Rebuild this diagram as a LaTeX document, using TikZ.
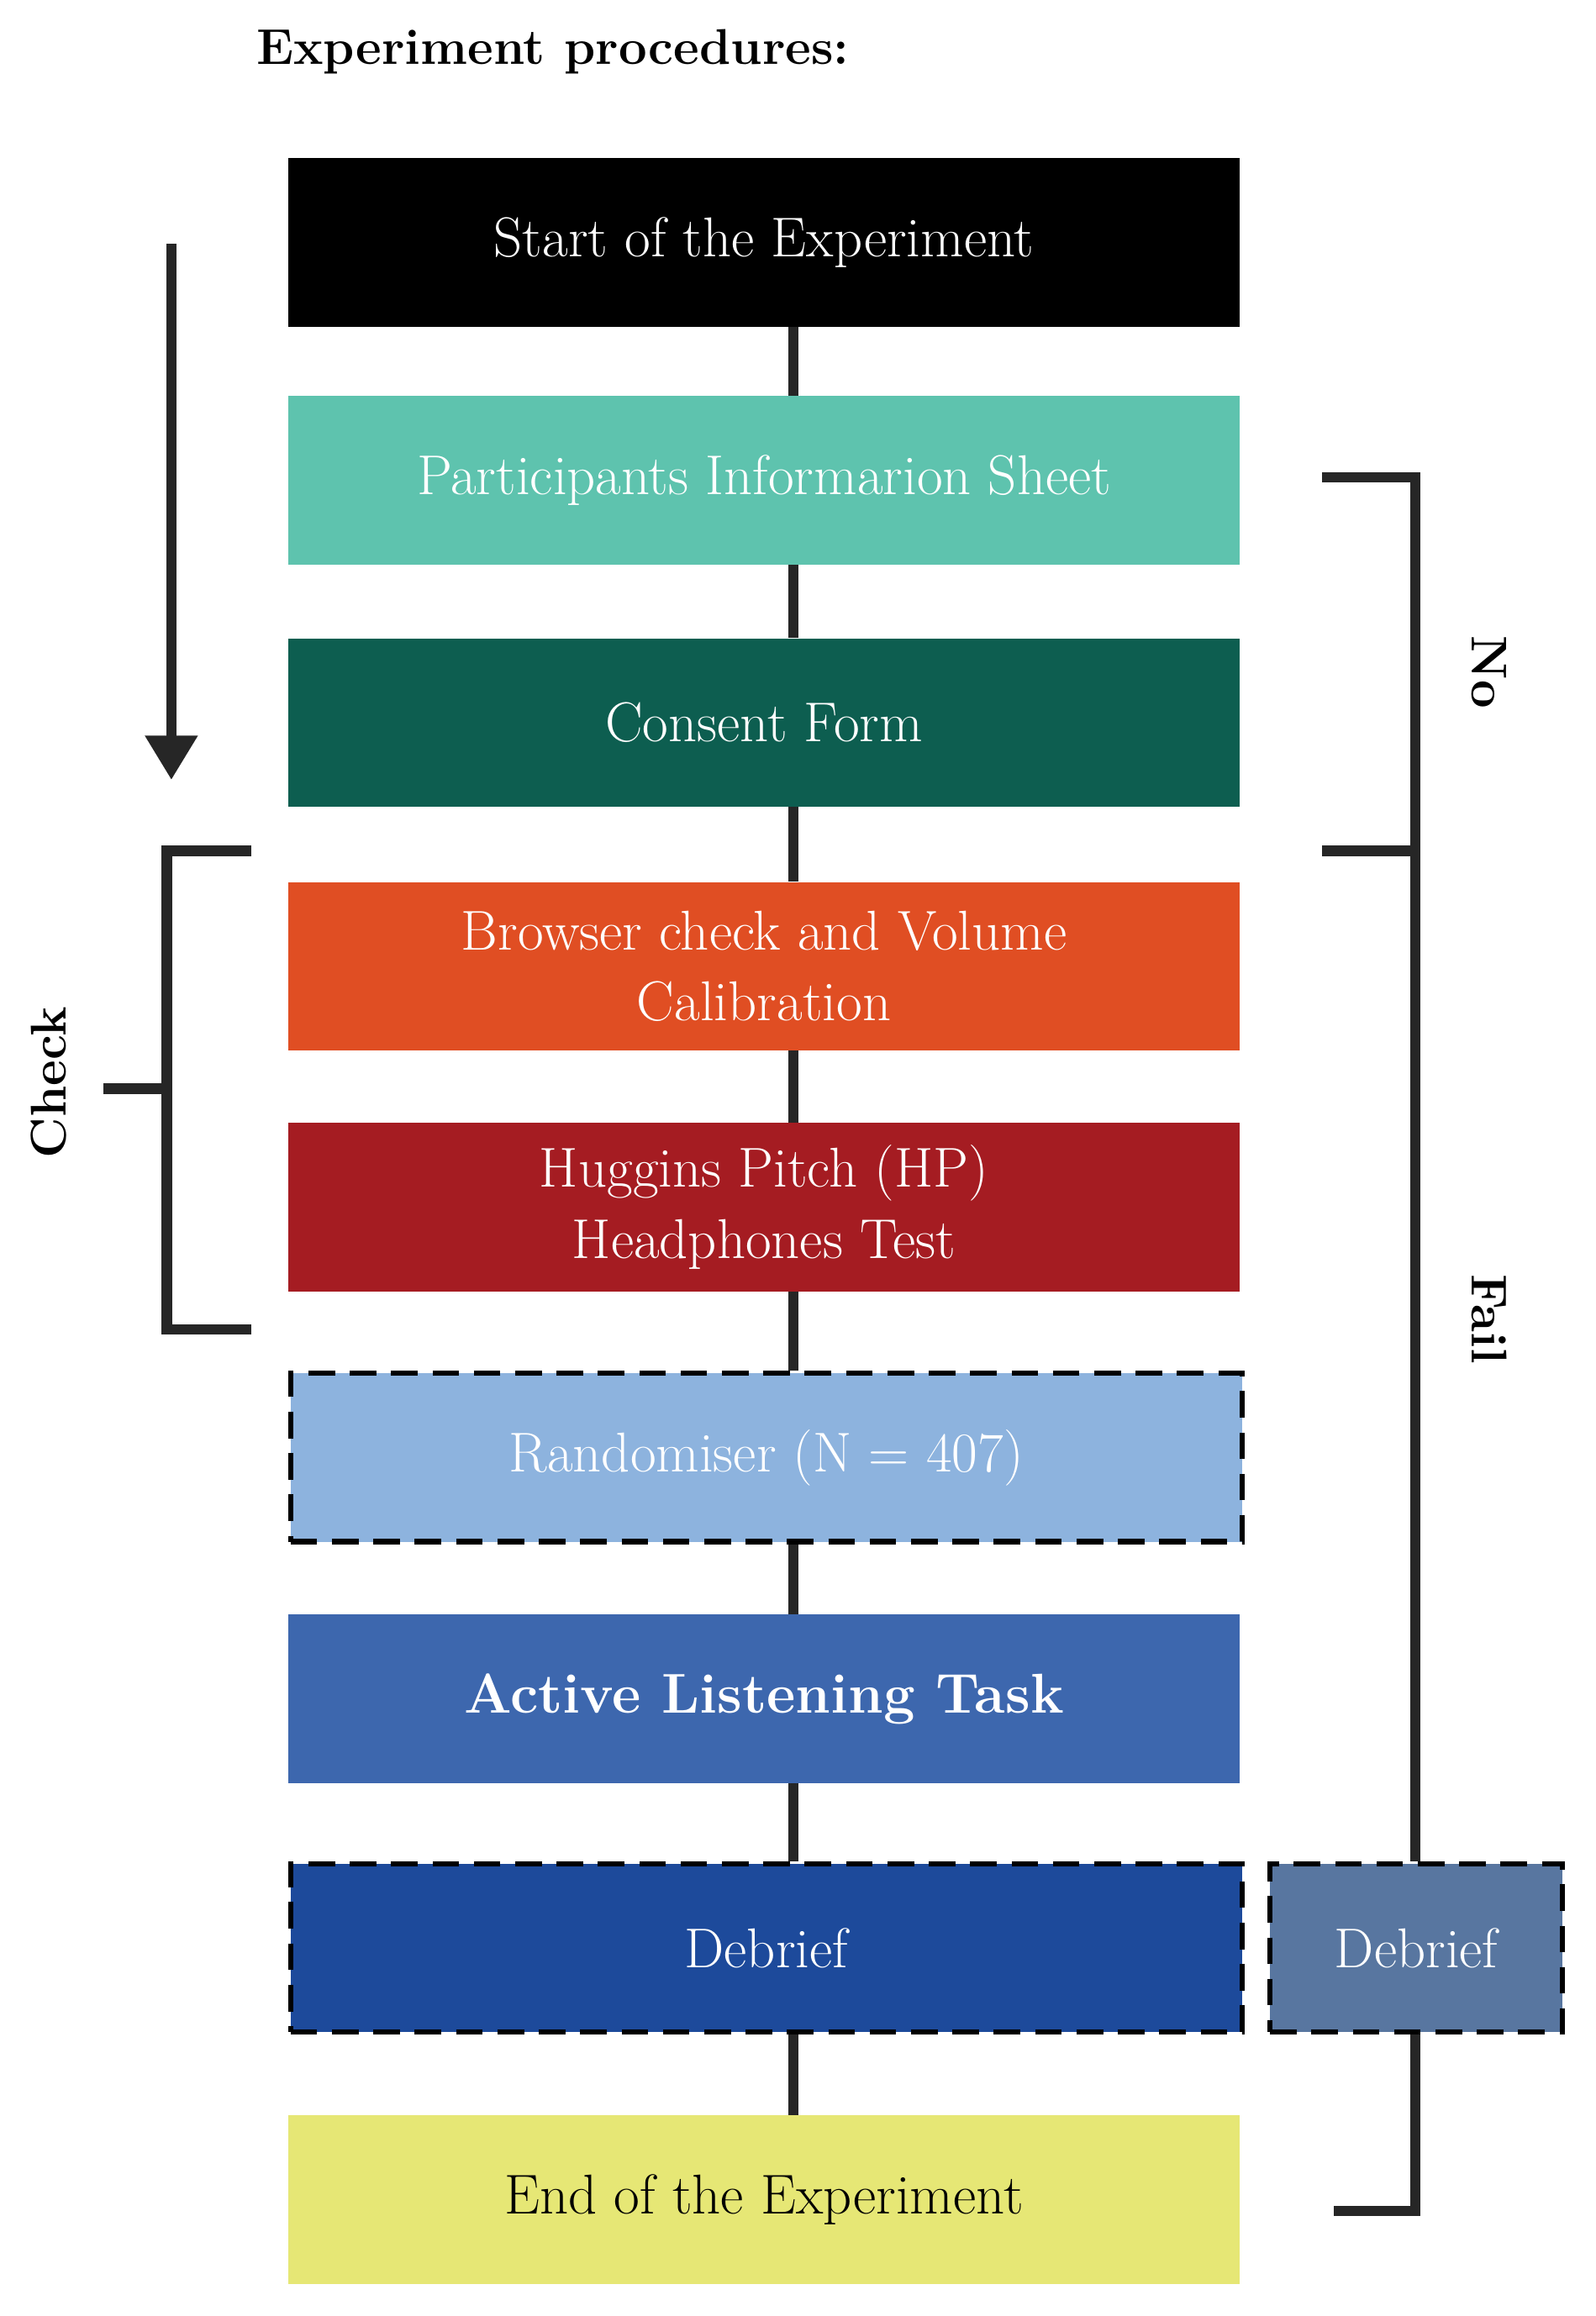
\documentclass[tikz,border=0pt]{standalone}
\usetikzlibrary{arrows.meta}
\begin{document}
\begin{tikzpicture}[x=1pt,y=-1pt,
 box/.style={draw=none,minimum width=644pt,minimum height=114pt,anchor=north west,inner sep=0pt,align=center,font=\fontsize{38}{48}\selectfont,text=white},
 dbox/.style={box,draw=black,line width=3.5pt,dash pattern=on 18pt off 10pt},
 ln/.style={line width=7pt,color=black!85}]
\useasboundingbox (0,0) rectangle (1080,1568);
\definecolor{c2}{HTML}{5EC3AE}\definecolor{c3}{HTML}{0D5E50}\definecolor{c4}{HTML}{E04E23}
\definecolor{c5}{HTML}{A51C22}\definecolor{c6}{HTML}{8DB3DE}\definecolor{c7}{HTML}{3D67AE}
\definecolor{c8}{HTML}{1D4A9B}\definecolor{c9}{HTML}{E6E775}\definecolor{c10}{HTML}{5876A0}
\node[anchor=west,font=\fontsize{34}{40}\selectfont\bfseries] (t) at (170,35) {Experiment procedures:};
\node[box,fill=black] (b1) at (195,107) {Start of the Experiment};
\node[box,fill=c2] (b2) at (195,268) {Participants Informarion Sheet};
\node[box,fill=c3] (b3) at (195,432) {Consent Form};
\node[box,fill=c4] (b4) at (195,597) {Browser check and Volume\\Calibration};
\node[box,fill=c5] (b5) at (195,760) {Huggins Pitch (HP)\\Headphones Test};
\node[dbox,fill=c6] (b6) at (195,928) {Randomiser (N = 407)};
\node[box,fill=c7,font=\fontsize{38}{48}\selectfont\bfseries] (b7) at (195,1093) {Active Listening Task};
\node[dbox,fill=c8] (b8) at (195,1260) {Debrief};
\node[box,fill=c9,text=black] (b9) at (195,1432) {End of the Experiment};
\node[dbox,fill=c10,minimum width=198pt] (d2) at (858,1260) {Debrief};
\foreach \a/\b in {b1/b2,b2/b3,b3/b4,b4/b5,b5/b6,b6/b7,b7/b8,b8/b9}
  \draw[ln] (\a.south -| 537,0) -- (\b.north -| 537,0);
\coordinate (a1) at (116,165); \coordinate (a2) at (116,528);
\draw[ln,-{Triangle[length=30pt,width=34pt]}] (a1) -- (a2);
\coordinate (c1) at (170,576); \coordinate (c2) at (170,900);
\draw[ln] (c1) -- (113,576) -- (113,900) -- (c2);
\coordinate (c3) at (70,737); \draw[ln] (c3) -- (113,737);
\node[rotate=90,font=\fontsize{34}{40}\selectfont\bfseries] (ck) at (33,733) {Check};
\coordinate (r1) at (895,323); \coordinate (r2) at (895,576);
\draw[ln] (r1) -- (958,323) -- (d2.north -| 958,0);
\draw[ln] (r2) -- (958,576);
\coordinate (r3) at (903,1497);
\draw[ln] (d2.south -| 958,0) -- (958,1497) -- (r3);
\node[rotate=-90,font=\fontsize{34}{40}\selectfont\bfseries] (no) at (1008,455) {No};
\node[rotate=-90,font=\fontsize{34}{40}\selectfont\bfseries] (fl) at (1008,893) {Fail};
\end{tikzpicture}
\end{document}
